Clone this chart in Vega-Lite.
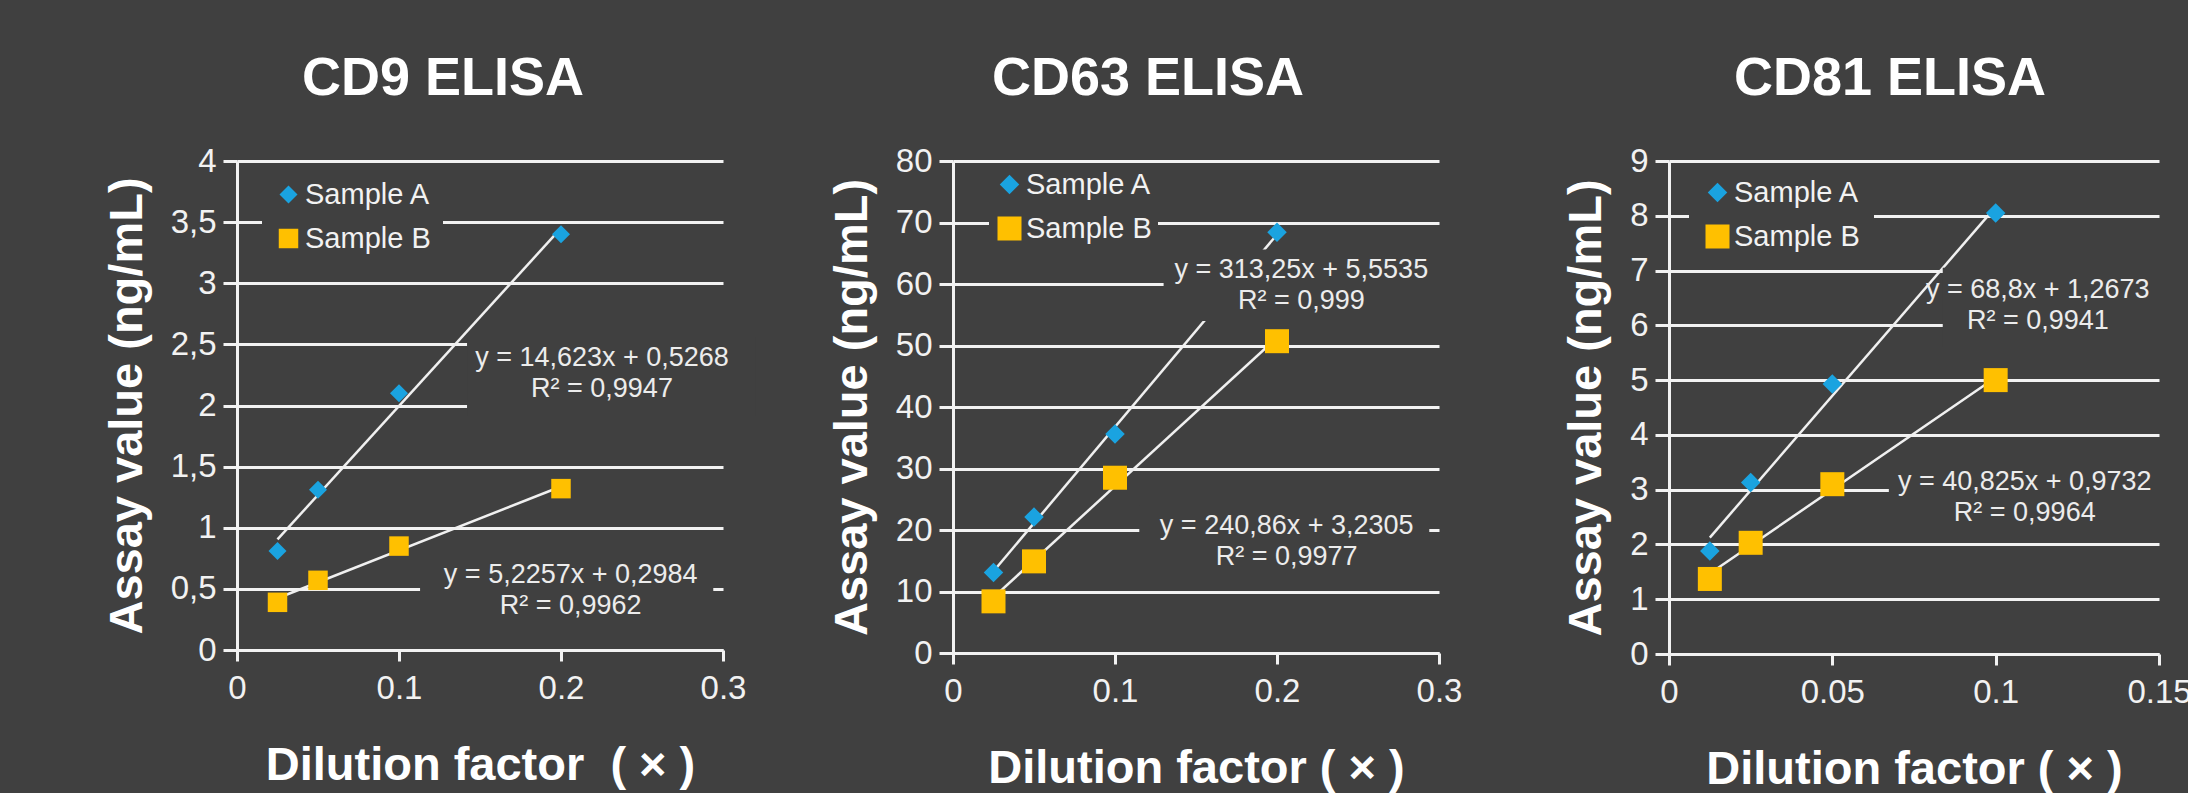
{
  "$schema": "https://vega.github.io/schema/vega-lite/v6.json",
  "background": "#404040",
  "padding": {"left": 103, "top": 52, "right": 0, "bottom": 12},
  "autosize": {"type": "pad"},
  "spacing": 230,
  "bounds": "flush",
  "config": {
    "font": "Liberation Sans, Arial, sans-serif",
    "view": {"stroke": null},
    "title": {"font": "Liberation Sans, Arial, sans-serif", "fontSize": 54, "fontWeight": "bold", "color": "#ffffff", "anchor": "middle", "offset": 39},
    "axis": {
      "labelFont": "Liberation Sans, Arial, sans-serif", "labelFontSize": 33, "labelColor": "#f2f2f2",
      "titleFont": "Liberation Sans, Arial, sans-serif", "titleFontSize": 47, "titleFontWeight": "bold", "titleColor": "#ffffff",
      "domainColor": "#f2f2f2", "domainWidth": 3, "tickColor": "#f2f2f2", "tickWidth": 3,
      "gridColor": "#f2f2f2", "gridWidth": 3, "gridOpacity": 1
    },
    "axisX": {"grid": false, "tickSize": 11, "labelPadding": 11, "titlePadding": 37, "labelFlush": false, "labelOverlap": false},
    "axisY": {"grid": true, "tickSize": 14, "labelPadding": 7, "titlePadding": 19, "labelOverlap": false}
  },
  "datasets": {
    "points": [
      {"assay": "CD9", "sample": "Sample A", "dilution": 0.025, "value": 0.81},
      {"assay": "CD9", "sample": "Sample A", "dilution": 0.05, "value": 1.31},
      {"assay": "CD9", "sample": "Sample A", "dilution": 0.1, "value": 2.1},
      {"assay": "CD9", "sample": "Sample A", "dilution": 0.2, "value": 3.4},
      {"assay": "CD9", "sample": "Sample B", "dilution": 0.025, "value": 0.39},
      {"assay": "CD9", "sample": "Sample B", "dilution": 0.05, "value": 0.57},
      {"assay": "CD9", "sample": "Sample B", "dilution": 0.1, "value": 0.85},
      {"assay": "CD9", "sample": "Sample B", "dilution": 0.2, "value": 1.32},
      {"assay": "CD63", "sample": "Sample A", "dilution": 0.025, "value": 13.1},
      {"assay": "CD63", "sample": "Sample A", "dilution": 0.05, "value": 22.1},
      {"assay": "CD63", "sample": "Sample A", "dilution": 0.1, "value": 35.6},
      {"assay": "CD63", "sample": "Sample A", "dilution": 0.2, "value": 68.4},
      {"assay": "CD63", "sample": "Sample B", "dilution": 0.025, "value": 8.4},
      {"assay": "CD63", "sample": "Sample B", "dilution": 0.05, "value": 14.9},
      {"assay": "CD63", "sample": "Sample B", "dilution": 0.1, "value": 28.5},
      {"assay": "CD63", "sample": "Sample B", "dilution": 0.2, "value": 50.7},
      {"assay": "CD81", "sample": "Sample A", "dilution": 0.0125, "value": 1.88},
      {"assay": "CD81", "sample": "Sample A", "dilution": 0.025, "value": 3.13},
      {"assay": "CD81", "sample": "Sample A", "dilution": 0.05, "value": 4.93},
      {"assay": "CD81", "sample": "Sample A", "dilution": 0.1, "value": 8.05},
      {"assay": "CD81", "sample": "Sample B", "dilution": 0.0125, "value": 1.37},
      {"assay": "CD81", "sample": "Sample B", "dilution": 0.025, "value": 2.03},
      {"assay": "CD81", "sample": "Sample B", "dilution": 0.05, "value": 3.1},
      {"assay": "CD81", "sample": "Sample B", "dilution": 0.1, "value": 5.0}
    ],
    "labels": [
      {"assay": "CD9", "label": "y = 14,623x + 0,5268\nR² = 0,9947", "tx": 0.2253, "ty": 2.39, "bx": 0.142, "bx2": 0.32, "by": 1.92, "by2": 2.56},
      {"assay": "CD9", "label": "y = 5,2257x + 0,2984\nR² = 0,9962", "tx": 0.206, "ty": 0.61, "bx": 0.113, "bx2": 0.294, "by": 0.27, "by2": 0.72},
      {"assay": "CD63", "label": "y = 313,25x + 5,5535\nR² = 0,999", "tx": 0.215, "ty": 62.3, "bx": 0.13, "bx2": 0.33, "by": 54, "by2": 65.6},
      {"assay": "CD63", "label": "y = 240,86x + 3,2305\nR² = 0,9977", "tx": 0.206, "ty": 20.7, "bx": 0.115, "bx2": 0.294, "by": 13, "by2": 24},
      {"assay": "CD81", "label": "y = 68,8x + 1,2673\nR² = 0,9941", "tx": 0.1129, "ty": 6.64, "bx": 0.0838, "bx2": 0.16, "by": 5.6, "by2": 7.05},
      {"assay": "CD81", "label": "y = 40,825x + 0,9732\nR² = 0,9964", "tx": 0.1089, "ty": 3.14, "bx": 0.0673, "bx2": 0.16, "by": 2.3, "by2": 3.35}
    ]
  },
  "resolve": {
    "scale": {"x": "independent", "y": "independent", "color": "independent", "shape": "independent", "size": "independent"},
    "axis": {"x": "independent", "y": "independent"},
    "legend": {"color": "independent", "shape": "independent", "size": "independent"}
  },
  "hconcat": [
    {
      "width": 486, "height": 489,
      "title": {"text": "CD9 ELISA", "dx": -37},
      "layer": [
        {
          "data": {"name": "points"},
          "transform": [{"filter": "datum.assay == 'CD9'"}, {"regression": "value", "on": "dilution", "groupby": ["sample"]}],
          "mark": {"type": "line", "color": "#f0f0f0", "strokeWidth": 2.5},
          "encoding": {
            "x": {"field": "dilution", "type": "quantitative", "scale": {"domain": [0, 0.3], "nice": false}, "axis": {"values": [0, 0.1, 0.2, 0.3], "format": "~g", "title": "Dilution factor \u00a0( × )"}},
            "y": {"field": "value", "type": "quantitative", "scale": {"domain": [0, 4], "nice": false}, "axis": {"values": [0, 0.5, 1, 1.5, 2, 2.5, 3, 3.5, 4], "format": "~g", "labelExpr": "replace(datum.label, '.', ',')", "title": "Assay value (ng/mL)"}},
            "detail": {"field": "sample"}
          }
        },
        {
          "data": {"name": "points"},
          "transform": [{"filter": "datum.assay == 'CD9'"}],
          "mark": {"type": "point", "filled": true, "opacity": 1},
          "encoding": {
            "x": {"field": "dilution", "type": "quantitative"},
            "y": {"field": "value", "type": "quantitative"},
            "color": {"field": "sample", "type": "nominal", "scale": {"domain": ["Sample A", "Sample B"], "range": ["#1aa3e0", "#ffc000"]},
              "legend": {"title": null, "orient": "none", "legendX": 25, "legendY": 7, "fillColor": "#404040", "padding": 12, "rowPadding": 14, "labelOffset": 2, "symbolSize": 300, "labelFontSize": 29, "labelColor": "#f2f2f2", "labelFont": "Liberation Sans, Arial, sans-serif"}},
            "shape": {"field": "sample", "type": "nominal", "scale": {"domain": ["Sample A", "Sample B"], "range": ["diamond", "square"]},
              "legend": {"title": null, "orient": "none", "legendX": 25, "legendY": 7, "fillColor": "#404040", "padding": 12, "rowPadding": 14, "labelOffset": 2, "symbolSize": 300, "labelFontSize": 29, "labelColor": "#f2f2f2", "labelFont": "Liberation Sans, Arial, sans-serif"}},
            "size": {"field": "sample", "type": "nominal", "scale": {"domain": ["Sample A", "Sample B"], "range": [324, 380]}, "legend": null}
          }
        },
        {
          "data": {"name": "labels"},
          "transform": [{"filter": "datum.assay == 'CD9'"}],
          "mark": {"type": "rect", "color": "#404040"},
          "encoding": {"x": {"field": "bx", "type": "quantitative"}, "x2": {"field": "bx2"}, "y": {"field": "by", "type": "quantitative"}, "y2": {"field": "by2"}}
        },
        {
          "data": {"name": "labels"},
          "transform": [{"filter": "datum.assay == 'CD9'"}],
          "mark": {"type": "text", "lineBreak": "\n", "fontSize": 27, "color": "#ececec", "align": "center", "baseline": "middle", "lineHeight": 31},
          "encoding": {"x": {"field": "tx", "type": "quantitative"}, "y": {"field": "ty", "type": "quantitative"}, "text": {"field": "label"}}
        }
      ]
    },
    {
      "width": 486, "height": 492,
      "title": {"text": "CD63 ELISA", "dx": -48},
      "layer": [
        {
          "data": {"name": "points"},
          "transform": [{"filter": "datum.assay == 'CD63'"}, {"regression": "value", "on": "dilution", "groupby": ["sample"]}],
          "mark": {"type": "line", "color": "#f0f0f0", "strokeWidth": 2.5},
          "encoding": {
            "x": {"field": "dilution", "type": "quantitative", "scale": {"domain": [0, 0.3], "nice": false}, "axis": {"values": [0, 0.1, 0.2, 0.3], "format": "~g", "title": "Dilution factor ( × )"}},
            "y": {"field": "value", "type": "quantitative", "scale": {"domain": [0, 80], "nice": false}, "axis": {"values": [0, 10, 20, 30, 40, 50, 60, 70, 80], "format": "~g", "title": "Assay value (ng/mL)"}},
            "detail": {"field": "sample"}
          }
        },
        {
          "data": {"name": "points"},
          "transform": [{"filter": "datum.assay == 'CD63'"}],
          "mark": {"type": "point", "filled": true, "opacity": 1},
          "encoding": {
            "x": {"field": "dilution", "type": "quantitative"},
            "y": {"field": "value", "type": "quantitative"},
            "color": {"field": "sample", "type": "nominal", "scale": {"domain": ["Sample A", "Sample B"], "range": ["#1aa3e0", "#ffc000"]},
              "legend": {"title": null, "orient": "none", "legendX": 36, "legendY": 3, "fillColor": "#404040", "padding": 6, "rowPadding": 14, "labelOffset": 2, "symbolSize": 360, "labelFontSize": 29, "labelColor": "#f2f2f2", "labelFont": "Liberation Sans, Arial, sans-serif"}},
            "shape": {"field": "sample", "type": "nominal", "scale": {"domain": ["Sample A", "Sample B"], "range": ["diamond", "square"]},
              "legend": {"title": null, "orient": "none", "legendX": 36, "legendY": 3, "fillColor": "#404040", "padding": 6, "rowPadding": 14, "labelOffset": 2, "symbolSize": 360, "labelFontSize": 29, "labelColor": "#f2f2f2", "labelFont": "Liberation Sans, Arial, sans-serif"}},
            "size": {"field": "sample", "type": "nominal", "scale": {"domain": ["Sample A", "Sample B"], "range": [380, 576]}, "legend": null}
          }
        },
        {
          "data": {"name": "labels"},
          "transform": [{"filter": "datum.assay == 'CD63'"}],
          "mark": {"type": "rect", "color": "#404040"},
          "encoding": {"x": {"field": "bx", "type": "quantitative"}, "x2": {"field": "bx2"}, "y": {"field": "by", "type": "quantitative"}, "y2": {"field": "by2"}}
        },
        {
          "data": {"name": "labels"},
          "transform": [{"filter": "datum.assay == 'CD63'"}],
          "mark": {"type": "text", "lineBreak": "\n", "fontSize": 27, "color": "#ececec", "align": "center", "baseline": "middle", "lineHeight": 31},
          "encoding": {"x": {"field": "tx", "type": "quantitative"}, "y": {"field": "ty", "type": "quantitative"}, "text": {"field": "label"}}
        }
      ]
    },
    {
      "width": 490, "height": 493,
      "title": {"text": "CD81 ELISA", "dx": -24},
      "layer": [
        {
          "data": {"name": "points"},
          "transform": [{"filter": "datum.assay == 'CD81'"}, {"regression": "value", "on": "dilution", "groupby": ["sample"]}],
          "mark": {"type": "line", "color": "#f0f0f0", "strokeWidth": 2.5},
          "encoding": {
            "x": {"field": "dilution", "type": "quantitative", "scale": {"domain": [0, 0.15], "nice": false}, "axis": {"values": [0, 0.05, 0.1, 0.15], "format": "~g", "title": "Dilution factor ( × )"}},
            "y": {"field": "value", "type": "quantitative", "scale": {"domain": [0, 9], "nice": false}, "axis": {"values": [0, 1, 2, 3, 4, 5, 6, 7, 8, 9], "format": "~g", "title": "Assay value (ng/mL)"}},
            "detail": {"field": "sample"}
          }
        },
        {
          "data": {"name": "points"},
          "transform": [{"filter": "datum.assay == 'CD81'"}],
          "mark": {"type": "point", "filled": true, "opacity": 1},
          "encoding": {
            "x": {"field": "dilution", "type": "quantitative"},
            "y": {"field": "value", "type": "quantitative"},
            "color": {"field": "sample", "type": "nominal", "scale": {"domain": ["Sample A", "Sample B"], "range": ["#1aa3e0", "#ffc000"]},
              "legend": {"title": null, "orient": "none", "legendX": 20, "legendY": 3, "fillColor": "#404040", "padding": 14, "rowPadding": 14, "labelOffset": 2, "symbolSize": 360, "labelFontSize": 29, "labelColor": "#f2f2f2", "labelFont": "Liberation Sans, Arial, sans-serif"}},
            "shape": {"field": "sample", "type": "nominal", "scale": {"domain": ["Sample A", "Sample B"], "range": ["diamond", "square"]},
              "legend": {"title": null, "orient": "none", "legendX": 20, "legendY": 3, "fillColor": "#404040", "padding": 14, "rowPadding": 14, "labelOffset": 2, "symbolSize": 360, "labelFontSize": 29, "labelColor": "#f2f2f2", "labelFont": "Liberation Sans, Arial, sans-serif"}},
            "size": {"field": "sample", "type": "nominal", "scale": {"domain": ["Sample A", "Sample B"], "range": [380, 576]}, "legend": null}
          }
        },
        {
          "data": {"name": "labels"},
          "transform": [{"filter": "datum.assay == 'CD81'"}],
          "mark": {"type": "rect", "color": "#404040"},
          "encoding": {"x": {"field": "bx", "type": "quantitative"}, "x2": {"field": "bx2"}, "y": {"field": "by", "type": "quantitative"}, "y2": {"field": "by2"}}
        },
        {
          "data": {"name": "labels"},
          "transform": [{"filter": "datum.assay == 'CD81'"}],
          "mark": {"type": "text", "lineBreak": "\n", "fontSize": 27, "color": "#ececec", "align": "center", "baseline": "middle", "lineHeight": 31},
          "encoding": {"x": {"field": "tx", "type": "quantitative"}, "y": {"field": "ty", "type": "quantitative"}, "text": {"field": "label"}}
        }
      ]
    }
  ]
}
